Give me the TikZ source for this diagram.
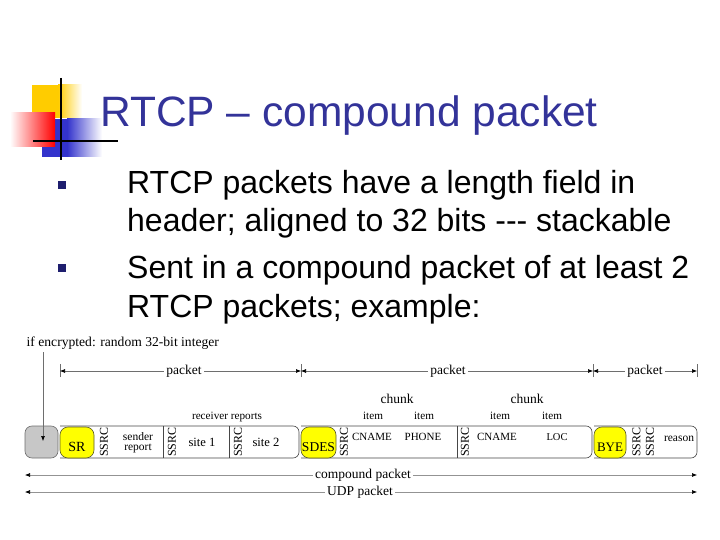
\documentclass[tikz,border=0pt]{standalone}
\usepackage{fontspec}
\newfontfamily\sansf{Liberation Sans}
\newfontfamily\serf{Liberation Serif}
\usetikzlibrary{arrows.meta}
\definecolor{titleblue}{RGB}{51,51,153}
\definecolor{bulletblue}{RGB}{30,30,110}
\definecolor{logoyellow}{RGB}{255,204,0}
\definecolor{logored}{RGB}{255,0,0}
\definecolor{logoblue}{RGB}{51,51,204}
\definecolor{boxyellow}{RGB}{255,255,0}
\definecolor{boxedge}{RGB}{90,90,40}
\definecolor{celledge}{RGB}{70,70,70}
\definecolor{dimgray}{RGB}{110,110,110}
\tikzset{
  bodytext/.style={anchor=base west, inner sep=0pt, font=\sansf\fontsize{32}{37}\selectfont},
  bulletsq/.style={rectangle, fill=bulletblue, minimum size=8pt, inner sep=0pt},
  lbl/.style={inner sep=0.5pt, font=\serf\fontsize{#1}{#1}\selectfont},
  lbl/.default=13.5,
  vlbl/.style={inner sep=0pt, rotate=90, font=\serf\fontsize{12}{12}\selectfont},
  wlbl/.style={inner sep=2pt, fill=white, font=\serf\fontsize{13.5}{13.5}\selectfont},
  cellbox/.style={draw=celledge, fill=white, line width=0.6pt, rounded corners=6pt},
  yellowbox/.style={draw=boxedge, fill=boxyellow, line width=0.6pt, rounded corners=8pt},
  greybox/.style={draw=dimgray, fill=black!22, line width=0.6pt, rounded corners=7pt},
  divider/.style={draw=celledge, line width=0.6pt},
  tickline/.style={draw=dimgray, line width=0.6pt},
  dimline/.style={draw=dimgray, line width=0.6pt,
    {Latex[length=5pt,width=4pt,color=black]}-{Latex[length=5pt,width=4pt,color=black]}},
  downarrow/.style={draw=dimgray, line width=0.6pt, -{Latex[length=5pt,width=4pt,color=black]}},
}
\begin{document}
\begin{tikzpicture}[x=1pt,y=-1pt]
\useasboundingbox (0,0) rectangle (720,540);
% ---- logo ----
\fill[logoyellow] (32,85) rectangle (58,118);
\shade[left color=logoyellow, right color=white] (58,85) rectangle (82,118);
\fill[logoblue] (42,119) rectangle (67,157);
\shade[left color=logoblue, right color=white] (67,119) rectangle (102,157);
\shade[left color=white, right color=logored] (10,113) rectangle (55,147);
\draw[black, line width=2.2pt] (61,78) -- (61,160);
\draw[black, line width=2.2pt] (33,141) -- (118,141);
% ---- title ----
\node[anchor=base west, inner sep=0pt, text=titleblue, font=\sansf\fontsize{42.5}{50}\selectfont] (title) at (100,127) {RTCP – compound packet};
% ---- bullets ----
\node[bulletsq] (b1) at (62,185) {};
\node[bulletsq] (b2) at (62,268) {};
\node[bodytext] (t1) at (127,194) {RTCP packets have a length field in};
\node[bodytext] (t2) at (127,232) {header; aligned to 32 bits \mbox{-}\mbox{-}\mbox{-} stackable};
\node[bodytext] (t3) at (127,278) {Sent in a compound packet of at least 2};
\node[bodytext] (t4) at (127,317) {RTCP packets; example:};
% ---- encrypted label and arrow ----
\node[lbl=13.6, anchor=west] (enc) at (26,343) {if encrypted: random 32-bit integer};
\coordinate (encTop) at (43,352);
\coordinate (encEnd) at (43,441);
% ---- packet row ----
\draw[cellbox] (60,426) -| (299,458) -- (60,458);
\draw[cellbox] (301,426) -| (592,458) -- (301,458);
\draw[cellbox] (594,426) -| (697,458) -- (594,458);
\draw[divider] (163,426) -- (163,458);
\draw[divider] (229,426) -- (229,458);
\draw[divider] (457,426) -- (457,458);
\draw[greybox] (25,426) rectangle (58,458);
\draw[yellowbox] (60,427) rectangle (94,458);
\draw[yellowbox] (301,427) rectangle (336,458);
\draw[yellowbox] (594,427) rectangle (626,458);
\draw[downarrow] (encTop) -- (encEnd);
\node[lbl=14] (sr) at (77,447) {SR};
\node[lbl=13.5] (sdes) at (318.5,447) {SDES};
\node[lbl=13] (bye) at (610,447) {BYE};
\node[vlbl] (s1) at (104,442) {SSRC};
\node[vlbl] (s2) at (172,442) {SSRC};
\node[vlbl] (s3) at (238,442) {SSRC};
\node[vlbl] (s4) at (344,442) {SSRC};
\node[vlbl] (s5) at (465,442) {SSRC};
\node[vlbl] (s6) at (636.5,442) {SSRC};
\node[vlbl] (s7) at (650,442) {SSRC};
\node[anchor=base, inner sep=0pt, font=\serf\fontsize{11.5}{11.5}\selectfont] (sender) at (138,440) {sender};
\node[anchor=base, inner sep=0pt, font=\serf\fontsize{11.5}{11.5}\selectfont] (report) at (138,450.5) {report};
\node[lbl=12.6] (site1) at (202,442) {site 1};
\node[lbl=12.6] (site2) at (266,442) {site 2};
\node[lbl=11] (cn1) at (372,437) {CNAME};
\node[lbl=11] (ph) at (423,437) {PHONE};
\node[lbl=11] (cn2) at (497,437) {CNAME};
\node[lbl=10.5] (loc) at (557,437) {LOC};
\node[lbl=11.5] (reason) at (679,439) {reason};
% ---- upper labels ----
\node[lbl=11.2] (rr) at (227,417) {receiver reports};
\node[lbl=11.2] (i1) at (373,416) {item};
\node[lbl=11.2] (i2) at (424,416) {item};
\node[lbl=11.2] (i3) at (500,416) {item};
\node[lbl=11.2] (i4) at (552,416) {item};
\node[lbl=13.5] (ch1) at (397,399) {chunk};
\node[lbl=13.5] (ch2) at (527,399) {chunk};
% ---- packet dimension lines ----
\coordinate (k0) at (60,371);
\coordinate (k1) at (301,371);
\coordinate (k2) at (593,371);
\coordinate (k3) at (697,371);
\foreach \k in {k0,k1,k2,k3} \draw[tickline] ([yshift=-6pt]\k) -- ([yshift=7pt]\k);
\draw[dimline] (k0) -- (k1);
\draw[dimline] (k1) -- (k2);
\draw[dimline] (k2) -- (k3);
\node[wlbl] (p1) at (184,371) {packet};
\node[wlbl] (p2) at (448,371) {packet};
\node[wlbl] (p3) at (645,371) {packet};
% ---- compound / UDP ----
\coordinate (cL) at (25,475);
\coordinate (cR) at (697,475);
\coordinate (uL) at (25,492);
\coordinate (uR) at (697,492);
\draw[dimline, draw=gray!85] (cL) -- (cR);
\draw[dimline, draw=gray!85] (uL) -- (uR);
\node[wlbl] (cp) at (363,475) {compound packet};
\node[wlbl] (udp) at (360,492) {UDP packet};
\end{tikzpicture}
\end{document}
